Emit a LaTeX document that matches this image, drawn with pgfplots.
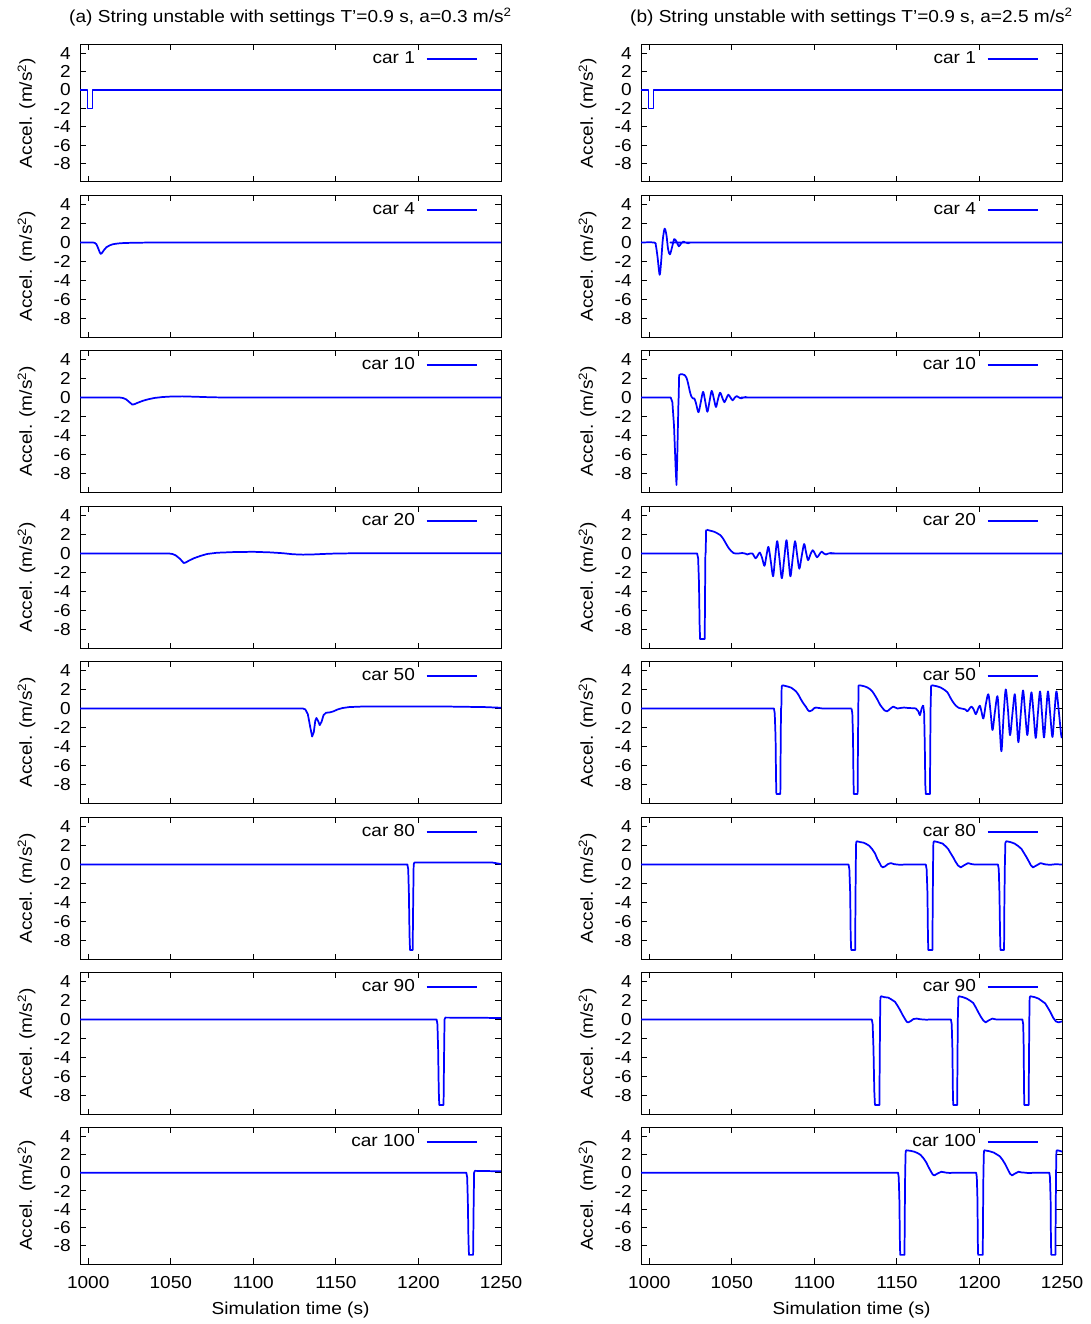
\documentclass[border=0pt]{standalone}
\usepackage{fontspec}
\setmainfont{Liberation Sans}[FakeStretch=1.1]
\usepackage{pgfplots}
\pgfplotsset{compat=1.18}

\pgfplotsset{
  curve/.style={color={rgb,255:red,0;green,0;blue,255}, line width=1.3pt, no marks, line join=round},
  sm/.style={curve, smooth, tension=0.5},
  panel/.style={
    scale only axis, width=315.75pt, height=106.875pt,
    anchor=north west,
    xmin=995, xmax=1250, ymin=-10, ymax=5,
    xtick={1000,1050,1100,1150,1200,1250},
    ytick={-8,-6,-4,-2,0,2,4},
    xticklabels={},
    tick align=inside, tick pos=both,
    major tick length=4.5pt,
    every tick/.style={black, line width=0.75pt},
    axis line style={black, line width=0.75pt},
    /pgf/number format/assume math mode=true,
    yticklabel style={xshift=-2.5pt},
    ylabel={Accel. (m/s\textsuperscript{2})},
    every axis y label/.style={at={(axis description cs:-0.127,0.5)}, rotate=90, anchor=center},
    legend plot pos=right,
    legend style={at={(rel axis cs:0.9447,1)}, anchor=east, yshift=-11.25pt, draw=none, fill=none, inner sep=0pt, column sep=6pt},
    legend image code/.code={\draw[color={rgb,255:red,0;green,0;blue,255}, line width=1.4pt] (0pt,0pt) -- (37.5pt,0pt);},
  },
  lastrow/.style={
    xticklabels={1000,1050,1100,1150,1200,1250},
    xticklabel style={yshift=-4.5pt},
    xlabel={Simulation time (s)},
    every axis x label/.style={at={(axis description cs:0.5,0)}, yshift=-34.5pt, anchor=center},
  }
}

\begin{document}
\fontsize{13}{15.6}\selectfont
\begin{tikzpicture}
\path[use as bounding box] (0,0) rectangle (817.5pt,-993pt);
\node at (217.9pt,-12.75pt) {(a) String unstable with settings T’=0.9 s, a=0.3 m/s\textsuperscript{2}};
\node at (638.6pt,-12.75pt) {(b) String unstable with settings T’=0.9 s, a=2.5 m/s\textsuperscript{2}};

% ===================== LEFT COLUMN (a) =====================
\begin{axis}[panel, at={(60pt,-33pt)}, height=103.5pt]
\addplot[curve] coordinates {(995,0)(999.6,0)(999.6,-2)(1002.6,-2)(1002.6,0)(1250,0)};
\addlegendentry{car 1}
\end{axis}

\begin{axis}[panel, at={(60pt,-146.25pt)}]
\addplot[curve] coordinates {(995,0)(1003,0)(1004,-0.05)(1005,-0.2)(1006,-0.6)(1007,-1.05)(1007.6,-1.2)(1008.3,-1.1)(1009.5,-0.8)(1011,-0.5)(1013,-0.3)(1015,-0.18)(1018,-0.1)(1022,-0.05)(1030,-0.02)(1040,0)(1250,0)};
\addlegendentry{car 4}
\end{axis}

\begin{axis}[panel, at={(60pt,-262.5pt)}]
\addplot[curve] coordinates {(995,0)(1019,0)(1021,-0.05)(1023,-0.2)(1025,-0.5)(1026.7,-0.75)(1028,-0.7)(1030,-0.55)(1033,-0.35)(1036,-0.2)(1040,-0.05)(1045,0.05)(1050,0.1)(1057,0.12)(1065,0.08)(1075,0.02)(1085,0)(1250,0)};
\addlegendentry{car 10}
\end{axis}

\begin{axis}[panel, at={(60pt,-379.5pt)}]
\addplot[curve] coordinates {(995,0)(1049,0)(1051,-0.05)(1053,-0.2)(1055.5,-0.55)(1057.8,-1.0)(1059,-0.95)(1061,-0.75)(1064,-0.5)(1068,-0.25)(1072,-0.05)(1078,0.08)(1088,0.15)(1100,0.18)(1110,0.12)(1118,0.03)(1124,-0.08)(1130,-0.12)(1136,-0.1)(1142,-0.05)(1150,0)(1160,0.02)(1250,0.02)};
\addlegendentry{car 20}
\end{axis}

\begin{axis}[panel, at={(60pt,-495.75pt)}]
\addplot[curve] coordinates {(995,0)(1130,0)(1131.5,-0.1)(1133,-0.6)(1134.5,-2.0)(1135.6,-2.95)(1136.6,-2.5)(1137.5,-1.3)(1138.2,-1.0)(1139.2,-1.3)(1140.2,-1.75)(1141.3,-1.4)(1142.5,-0.7)(1144,-0.45)(1146.5,-0.4)(1148.5,-0.3)(1151,-0.1)(1154,0.05)(1158,0.15)(1165,0.2)(1180,0.22)(1200,0.22)(1220,0.2)(1240,0.15)(1250,0.08)};
\addlegendentry{car 50}
\end{axis}

\begin{axis}[panel, at={(60pt,-612.75pt)}]
\addplot[curve] coordinates {(995,0)(1193.3,0)(1193.8,-0.5)(1194.2,-3)(1194.6,-7.5)(1194.9,-9)(1196.5,-9)(1196.8,-4)(1197.1,0)(1197.5,0.2)(1230,0.22)(1245,0.2)(1250,0.05)};
\addlegendentry{car 80}
\end{axis}

\begin{axis}[panel, at={(60pt,-729pt)}]
\addplot[curve] coordinates {(995,0)(1211,0)(1211.5,-0.5)(1211.9,-3)(1212.3,-7.5)(1212.6,-9)(1215.2,-9)(1215.5,-4)(1215.8,0)(1216.3,0.2)(1240,0.18)(1250,0.15)};
\addlegendentry{car 90}
\end{axis}

\begin{axis}[panel, lastrow, at={(60pt,-845.25pt)}, height=102.75pt]
\addplot[curve] coordinates {(995,0)(1229,0)(1229.5,-0.5)(1229.9,-3)(1230.3,-7.5)(1230.6,-9)(1233.1,-9)(1233.4,-4)(1233.7,0)(1234.2,0.2)(1250,0.15)};
\addlegendentry{car 100}
\end{axis}

% ===================== RIGHT COLUMN (b) =====================
\begin{axis}[panel, at={(480.75pt,-33pt)}, height=103.5pt]
\addplot[curve] coordinates {(995,0)(999.6,0)(999.6,-2)(1002.6,-2)(1002.6,0)(1250,0)};
\addlegendentry{car 1}
\end{axis}

\begin{axis}[panel, at={(480.75pt,-146.25pt)}]
\addplot[sm] coordinates {(995,0)(1003,0)(1004,-0.3)(1005,-1.5)(1006.3,-3.4)(1007.2,-2)(1008.2,0.3)(1009.3,1.45)(1010.4,0.8)(1011.4,-0.7)(1012.5,-1.25)(1013.8,-0.5)(1015.1,0.35)(1016.5,0.1)(1017.9,-0.4)(1019.3,-0.1)(1020.7,0.1)(1022,0)(1023.5,-0.08)(1025,0)(1027,0)(1250,0)};
\addlegendentry{car 4}
\end{axis}

\begin{axis}[panel, at={(480.75pt,-262.5pt)}]
\addplot[curve] coordinates {(995,0)(1013,0)(1014,-0.5)(1015,-3)(1016,-7.5)(1016.5,-9.2)(1017,-6)(1017.6,-1)(1017.8,0)(1018.1,2.3)(1018.5,2.45)};
\addlegendentry{car 10}
\addplot[sm] coordinates {(1018.5,2.45)(1020,2.45)(1021.5,2.35)(1022.5,2.1)(1023.5,1.5)(1024.5,0.7)(1025.5,0.1)(1026.5,-0.1)(1027.3,-0.1)(1028.3,-0.6)(1029.8,-1.55)(1031.2,-0.5)(1032.6,0.6)(1033.9,-0.4)(1035.2,-1.5)(1036.5,-0.4)(1037.8,0.7)(1039.1,-0.1)(1040.4,-1.0)(1041.6,-0.2)(1042.9,0.5)(1044.2,0)(1045.5,-0.5)(1046.7,-0.1)(1047.9,0.3)(1049.2,0)(1050.5,-0.3)(1051.8,0)(1053,0.15)(1054.4,0)(1055.7,-0.1)(1057,0)(1058.3,0.05)(1060,0)(1070,0)(1250,0)};
\end{axis}

\begin{axis}[panel, at={(480.75pt,-379.5pt)}]
\addplot[curve] coordinates {(995,0)(1029,0)(1029.6,-0.5)(1030.1,-3)(1030.5,-7.5)(1030.8,-9)(1033.6,-9)(1033.8,-4)(1034,0)(1034.2,0.1)(1034.4,2.4)(1034.8,2.5)};
\addlegendentry{car 20}
\addplot[sm] coordinates {(1034.8,2.5)(1037,2.4)(1039.2,2.3)(1041,2.15)(1042.9,1.95)(1044.6,1.6)(1046.3,1.1)(1048,0.6)(1049.7,0.25)(1051,0.05)(1052.3,0)(1054,0)(1056.3,0.05)(1058,0)(1059.4,-0.1)(1061,0)(1062.5,0)(1064.4,-0.5)(1065.7,-0.2)(1067,0.1)(1068.4,-0.5)(1069.8,-1.3)(1071,-0.2)(1072.2,0.7)(1073.6,-0.8)(1075,-2.4)(1076.2,-0.5)(1077.5,1.3)(1078.9,-0.6)(1080.3,-2.6)(1081.7,-0.6)(1083.1,1.4)(1084.3,-0.5)(1085.5,-2.4)(1086.9,-0.5)(1088.3,1.3)(1089.6,-0.2)(1090.9,-1.6)(1092.3,-0.3)(1093.8,1.0)(1095,0.1)(1096.2,-0.7)(1097.6,-0.1)(1099,0.35)(1100.3,0)(1101.6,-0.4)(1103,-0.1)(1104.4,0.2)(1105.7,0)(1107,-0.1)(1108.5,0)(1110,0.05)(1113,0)(1120,0)(1250,0)};
\end{axis}

\begin{axis}[panel, at={(480.75pt,-495.75pt)}]
\addplot[curve] coordinates {(995,0)(1075.5,0)(1076,-0.5)(1076.5,-3)(1076.8,-7.5)(1077,-9)(1079.4,-9)(1079.6,-4)(1079.8,0)(1080,0.1)(1080.2,2.3)(1080.6,2.45)};
\addlegendentry{car 50}
\addplot[sm] coordinates {(1080.6,2.45)(1083,2.35)(1085.9,2.2)(1087.5,2.0)(1088.9,1.8)(1090.5,1.4)(1091.9,0.95)(1093.5,0.5)(1095,0.15)(1096,-0.15)(1097,-0.3)(1098.5,-0.2)(1100,0.05)(1101,0.1)(1103,0.05)(1105,0)(1110,0)(1122.5,0)};
\addplot[curve] coordinates {(1122.5,0)(1123,-0.5)(1123.4,-3)(1123.7,-7.5)(1123.9,-9)(1126.2,-9)(1126.4,-4)(1126.6,0)(1126.8,2.4)(1127.2,2.45)};
\addplot[sm] coordinates {(1127.2,2.45)(1130,2.35)(1132.3,2.2)(1134,2.0)(1135.3,1.75)(1136.8,1.35)(1138.3,0.9)(1139.8,0.4)(1141.3,0.05)(1142.5,-0.2)(1144,-0.3)(1145.8,-0.05)(1147.8,0.2)(1149,0.1)(1150.4,0)(1152,0.05)(1154.4,0.1)(1157,0.05)(1161.5,0)(1163,-0.3)(1163.9,-0.7)(1165,0)(1165.9,0.35)};
\addplot[curve] coordinates {(1165.9,0.35)(1166.5,-0.5)(1166.9,-4)(1167.2,-8)(1167.5,-9)(1170,-9)(1170.2,-4)(1170.4,0)(1170.7,2.3)(1171,2.45)};
\addplot[sm] coordinates {(1171,2.45)(1174,2.35)(1176.6,2.2)(1178.5,2.0)(1180.6,1.7)(1182.2,1.2)(1183.7,0.75)(1185.7,0.3)(1187.7,0.05)(1189,0.0)(1190.5,-0.05)(1191.5,-0.1)(1192.7,-0.3)(1194,0.0)(1195.2,0.2)(1196.5,-0.1)(1197.8,-0.6)(1199,-0.1)(1200.2,0.3)(1201.2,-0.3)(1202.4,-1.05)(1203.9,0.5)(1205.4,1.5)(1206.7,-0.3)(1207.9,-2.26)(1209.4,-0.3)(1210.9,1.3)(1212.1,-1.5)(1213.3,-4.5)(1214.6,-0.8)(1215.9,2.0)(1217.2,0)(1218.5,-2.8)(1220,-0.5)(1221.4,1.5)(1222.5,-1)(1223.6,-3.55)(1225,-0.6)(1226.4,1.9)(1227.7,-0.5)(1229,-2.8)(1230.2,-0.4)(1231.5,1.7)(1232.8,-0.6)(1234.1,-3.1)(1235.4,-0.5)(1236.7,1.8)(1237.9,-0.6)(1239.1,-3.05)(1240.3,-0.5)(1241.5,1.8)(1242.8,-0.5)(1244.2,-3.0)(1245.4,-0.5)(1246.6,1.8)(1248,-0.2)(1249.5,-2.8)(1250,-3)};
\end{axis}

\begin{axis}[panel, at={(480.75pt,-612.75pt)}]
\addplot[curve] coordinates {(995,0)(1120.7,0)(1121.2,-0.5)(1121.7,-3)(1122,-7.5)(1122.3,-9)(1124.7,-9)(1124.9,-4)(1125.1,0)(1125.3,2.3)(1125.7,2.45)(1128,2.35)(1129.8,2.3)(1131.6,2.15)(1133.4,1.95)(1135.1,1.6)(1136.8,1.15)(1138.1,0.6)(1139.4,0.2)(1140.4,-0.15)(1141.4,-0.3)(1142.8,-0.2)(1144.6,0.05)(1146.4,0.15)(1148,0.05)(1150,0)(1152,-0.03)(1155,0)(1167.5,0)(1168,-0.5)(1168.5,-3)(1168.8,-7.5)(1169,-9)(1171.5,-9)(1171.7,-4)(1171.9,0)(1172.1,2.3)(1172.5,2.45)(1175,2.35)(1177.7,2.2)(1179.3,1.95)(1181,1.65)(1182.5,1.2)(1184.1,0.75)(1185.5,0.3)(1187,-0.1)(1188.7,-0.3)(1190.5,-0.1)(1193.1,0.15)(1195,0.05)(1197,0)(1200,0)(1211.2,0)(1211.7,-0.5)(1212.1,-3)(1212.5,-7.5)(1212.7,-9)(1214.9,-9)(1215.1,-4)(1215.4,0)(1215.7,2.3)(1216.3,2.45)(1219,2.35)(1221.3,2.2)(1223.4,1.95)(1225.4,1.65)(1227,1.2)(1228.4,0.8)(1230,0.3)(1231.2,-0.1)(1232.4,-0.3)(1234.5,-0.1)(1237,0.15)(1239,0.05)(1240.4,0)(1243,-0.03)(1246,0.03)(1250,0)};
\addlegendentry{car 80}
\end{axis}

\begin{axis}[panel, at={(480.75pt,-729pt)}]
\addplot[curve] coordinates {(995,0)(1134.8,0)(1135.3,-0.5)(1135.8,-3)(1136.3,-7.5)(1136.7,-9)(1139.4,-9)(1139.6,-4)(1139.8,0)(1140,2.3)(1140.4,2.45)(1142.5,2.35)(1144.8,2.3)(1146.8,2.1)(1148.9,1.85)(1150.4,1.45)(1151.9,1.0)(1153.4,0.5)(1154.9,0.05)(1156,-0.25)(1156.9,-0.3)(1158.5,-0.15)(1160,0.05)(1162,0.1)(1164,0.03)(1166,0)(1168,-0.02)(1170,0)(1182.7,0)(1183.2,-0.5)(1183.6,-3)(1183.9,-7.5)(1184.1,-9)(1186.5,-9)(1186.7,-4)(1186.9,0)(1187.2,2.3)(1187.6,2.45)(1190,2.35)(1192.3,2.2)(1194.2,2.0)(1196.2,1.75)(1197.7,1.3)(1199.2,0.8)(1200.8,0.3)(1202.3,-0.1)(1203.8,-0.3)(1205.5,-0.1)(1207.8,0.1)(1209.5,0.02)(1211,0)(1226,0)(1226.5,-0.5)(1226.8,-3)(1227,-7.5)(1227.2,-9)(1229.8,-9)(1230,-4)(1230.2,0)(1230.4,2.3)(1230.8,2.45)(1233.5,2.35)(1235.8,2.2)(1237.8,1.95)(1239.8,1.7)(1241.4,1.25)(1242.9,0.8)(1244.6,0.2)(1246.3,-0.2)(1247.9,-0.3)(1249,-0.25)(1250,-0.2)};
\addlegendentry{car 90}
\end{axis}

\begin{axis}[panel, lastrow, at={(480.75pt,-845.25pt)}, height=102.75pt]
\addplot[curve] coordinates {(995,0)(1150.7,0)(1151.1,-0.5)(1151.5,-3)(1151.8,-7.5)(1152,-9)(1154.6,-9)(1154.8,-4)(1155,0)(1155.3,2.3)(1155.6,2.45)(1158,2.4)(1160.5,2.3)(1162.5,2.15)(1164.3,1.95)(1166,1.6)(1167.7,1.15)(1169.2,0.6)(1170.7,0.1)(1171.7,-0.2)(1172.7,-0.3)(1174.5,-0.1)(1176.9,0.1)(1178.5,0.05)(1180,0)(1182,-0.03)(1185,0)(1198,0)(1198.4,-0.5)(1198.8,-3)(1199,-7.5)(1199.2,-9)(1202,-9)(1202.2,-4)(1202.4,0)(1202.7,2.3)(1203,2.45)(1206,2.35)(1208.7,2.2)(1210.5,2.0)(1212.3,1.8)(1214,1.4)(1215.7,0.9)(1217.2,0.35)(1218.5,-0.1)(1219.7,-0.3)(1221.5,-0.1)(1223.7,0.1)(1225.5,0.03)(1227.8,0)(1230,-0.05)(1233,0)(1242.3,0)(1242.7,-0.5)(1243.1,-3)(1243.3,-7.5)(1243.5,-9)(1246,-9)(1246.2,-4)(1246.4,0)(1246.6,2.3)(1246.9,2.45)(1248.5,2.4)(1250,2.3)};
\addlegendentry{car 100}
\end{axis}
\end{tikzpicture}
\end{document}
